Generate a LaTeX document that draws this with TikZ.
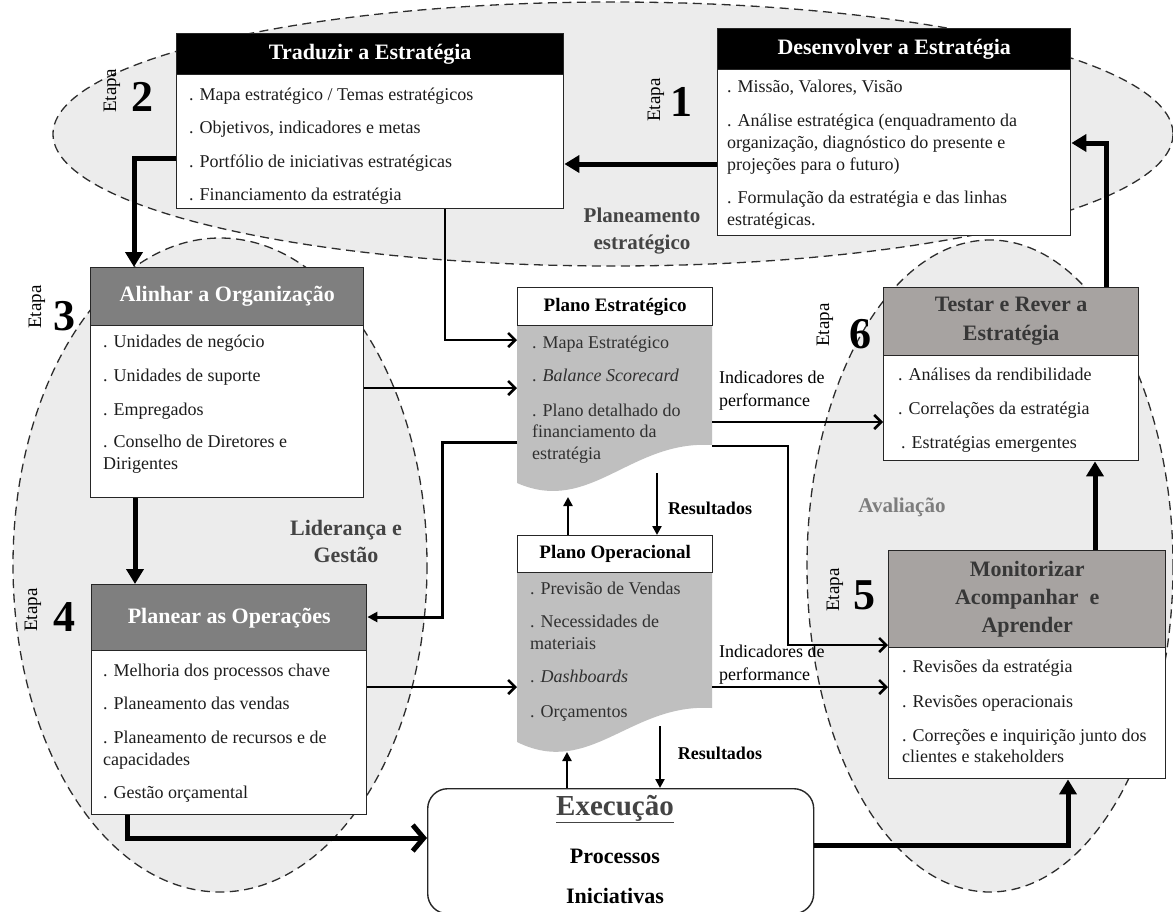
\documentclass[tikz,border=0pt]{standalone}
\usepackage{fontspec}
\setmainfont{Liberation Serif}
\usetikzlibrary{arrows.meta}

\definecolor{ellfill}{RGB}{236,236,236}
\definecolor{dashgray}{RGB}{45,45,45}
\definecolor{hdrdark}{RGB}{127,127,127}
\definecolor{hdrlight}{RGB}{167,163,161}
\definecolor{hdrlighttext}{RGB}{55,55,55}
\definecolor{docfill}{RGB}{191,191,191}
\definecolor{bodytext}{RGB}{28,28,28}
\definecolor{doctext}{RGB}{48,48,48}
\definecolor{labeldark}{RGB}{68,68,68}
\definecolor{labelmid}{RGB}{125,125,125}

\begin{document}
\begin{tikzpicture}[x=1pt,y=-1pt,
  zoneline/.style={draw=dashgray, line width=1.3pt, dash pattern=on 9pt off 5.5pt},
  card/.style={draw=black!85, line width=1.4pt, fill=white, inner sep=0pt, anchor=north west},
  hdr/.style={draw=black!85, line width=1.4pt, inner sep=0pt, anchor=north west, align=center,
    font=\fontsize{22}{29}\selectfont\bfseries},
  hdrblack/.style={hdr, fill=black, text=white},
  hdrdark/.style={hdr, fill=hdrdark, text=white},
  hdrlight/.style={hdr, fill=hdrlight, text=hdrlighttext},
  item/.style={anchor=west, inner sep=0pt, font=\fontsize{18}{22}\selectfont,
    text height=12.5pt, text depth=4pt, text=bodytext},
  docitem/.style={item, text=doctext},
  doctitle/.style={draw=black!85, line width=1.4pt, fill=white, inner sep=0pt, anchor=north west,
    font=\fontsize{19}{19}\selectfont\bfseries, minimum width=195pt},
  etapa/.style={rotate=90, inner sep=0pt, font=\fontsize{19}{19}\selectfont},
  stepnum/.style={inner sep=0pt, font=\fontsize{44}{44}\selectfont\bfseries},
  zonelabel/.style={inner sep=0pt, align=center, font=\fontsize{21}{27}\selectfont\bfseries},
  flowlabel/.style={anchor=west, inner sep=0pt, font=\fontsize{18}{23}\selectfont, align=left},
  reslabel/.style={inner sep=0pt, font=\fontsize{18}{18}\selectfont\bfseries},
  heavy/.style={line width=5pt, -{Triangle[length=15pt,width=17pt]}},
  heavybarb/.style={line width=5pt, -{Straight Barb[length=11pt,width=26pt]}},
  medbarb/.style={line width=2.6pt, -{Straight Barb[length=7pt,width=14pt]}},
  medtri/.style={line width=3pt, -{Triangle[length=10pt,width=10pt]}},
  thintri/.style={line width=2.6pt, -{Triangle[length=9pt,width=9pt]}},
]
\useasboundingbox (0,0) rectangle (1173,911);
\fill[white] (0,0) rectangle (1173,911);

% --- the three zones (fills first, then the dashed outlines)
\fill[ellfill] (613,134) ellipse [x radius=560, y radius=132];
\fill[ellfill] (220,565) ellipse [x radius=207, y radius=327];
\fill[ellfill] (990,566) ellipse [x radius=183, y radius=326];
\draw[zoneline] (613,134) ellipse [x radius=560, y radius=132];
\draw[zoneline] (220,565) ellipse [x radius=207, y radius=327];
\draw[zoneline] (990,566) ellipse [x radius=183, y radius=326];

\node[zonelabel, text=labeldark] (zplan) at (642,231) {Planeamento\\estratégico};
\node[zonelabel, text=labeldark, font=\fontsize{22}{27}\selectfont\bfseries] (zlead) at (346,541) {Liderança e\\Gestão};
\node[zonelabel, text=labelmid] (zeval) at (902,507) {Avaliação};

% --- Etapa 1: Desenvolver a Estratégia
\node[card, minimum width=353pt, minimum height=207pt] (b1) at (717,28) {};
\node[hdrblack, minimum width=353pt, minimum height=41pt] (b1h) at (717,28) {Desenvolver a Estratégia};
\node[item] (b1a) at (727,88) {. Missão, Valores, Visão};
\node[item] (b1b) at (727,122) {. Análise estratégica (enquadramento da};
\node[item] (b1c) at (727,144) {organização, diagnóstico do presente e};
\node[item] (b1d) at (727,166) {projeções para o futuro)};
\node[item] (b1e) at (727,199) {. Formulação da estratégia e das linhas};
\node[item] (b1f) at (727,221) {estratégicas.};
\node[etapa] (e1) at (656,100) {Etapa};
\node[stepnum] (n1) at (681,102) {1};

% --- Etapa 2: Traduzir a Estratégia
\node[card, minimum width=387pt, minimum height=175pt] (b2) at (176,33) {};
\node[hdrblack, minimum width=387pt, minimum height=41pt] (b2h) at (176,33) {Traduzir a Estratégia};
\node[item] (b2a) at (189,96) {. Mapa estratégico / Temas estratégicos};
\node[item] (b2b) at (189,129) {. Objetivos, indicadores e metas};
\node[item] (b2c) at (189,163) {. Portfólio de iniciativas estratégicas};
\node[item] (b2d) at (189,196) {. Financiamento da estratégia};
\node[etapa] (e2) at (112,91) {Etapa};
\node[stepnum] (n2) at (142,97) {2};

% --- Etapa 3: Alinhar a Organização
\node[card, minimum width=273pt, minimum height=230pt] (b3) at (90,267) {};
\node[hdrdark, minimum width=273pt, minimum height=58pt] (b3h) at (90,267) {Alinhar a Organização};
\node[item] (b3a) at (103,343) {. Unidades de negócio};
\node[item] (b3b) at (103,377) {. Unidades de suporte};
\node[item] (b3c) at (103,411) {. Empregados};
\node[item] (b3d) at (103,443) {. Conselho de Diretores e};
\node[item] (b3e) at (103,465) {Dirigentes};
\node[etapa] (e3) at (37,307) {Etapa};
\node[stepnum] (n3) at (64,316) {3};

% --- Etapa 4: Planear as Operações
\node[card, minimum width=275pt, minimum height=230pt] (b4) at (91,584) {};
\node[hdrdark, minimum width=275pt, minimum height=66pt] (b4h) at (91,584) {Planear as Operações};
\node[item] (b4a) at (103,672) {. Melhoria dos processos chave};
\node[item] (b4b) at (103,705) {. Planeamento das vendas};
\node[item] (b4c) at (103,739) {. Planeamento de recursos e de};
\node[item] (b4d) at (103,761) {capacidades};
\node[item] (b4e) at (103,794) {. Gestão orçamental};
\node[etapa] (e4) at (33,610) {Etapa};
\node[stepnum] (n4) at (64,617) {4};

% --- Etapa 6: Testar e Rever a Estratégia
\node[card, minimum width=255pt, minimum height=173pt] (b6) at (883,287) {};
\node[hdrlight, minimum width=255pt, minimum height=68pt] (b6h) at (883,287) {Testar e Rever a\\Estratégia};
\node[item] (b6a) at (898,376) {. Análises da rendibilidade};
\node[item] (b6b) at (898,410) {. Correlações da estratégia};
\node[item] (b6c) at (901,444) {. Estratégias emergentes};
\node[etapa] (e6) at (825,325) {Etapa};
\node[stepnum] (n6) at (860,334) {6};

% --- Etapa 5: Monitorizar Acompanhar e Aprender
\node[card, minimum width=277pt, minimum height=228pt] (b5) at (888,550) {};
\node[hdrlight, minimum width=277pt, minimum height=97pt, font=\fontsize{22}{28}\selectfont\bfseries] (b5h) at (888,550) {Monitorizar\\Acompanhar~ e\\Aprender};
\node[item] (b5a) at (902,668) {. Revisões da estratégia};
\node[item] (b5b) at (902,703) {. Revisões operacionais};
\node[item] (b5c) at (902,737) {. Correções e inquirição junto dos};
\node[item] (b5d) at (902,758) {clientes e stakeholders};
\node[etapa] (e5) at (835,590) {Etapa};
\node[stepnum] (n5) at (864,595) {5};

% --- Plano Estratégico (document shape)
\node[inner sep=0pt, minimum width=195pt, minimum height=158pt, anchor=north west] (pe) at (517,325) {};
\fill[docfill] (517,324) -- (712,324) -- (712,445) .. controls (630,440) and (590,515) .. (517,483) -- cycle;
\node[doctitle, minimum height=38pt] (pet) at (517,287) {Plano Estratégico};
\node[docitem] (pea) at (532,344) {. Mapa Estratégico};
\node[docitem] (peb) at (532,377) {. \textit{Balance Scorecard}};
\node[docitem] (pec) at (532,412) {. Plano detalhado do};
\node[docitem] (ped) at (532,433) {financiamento da};
\node[docitem] (pee) at (532,455) {estratégia};

% --- Plano Operacional (document shape)
\node[inner sep=0pt, minimum width=195pt, minimum height=170pt, anchor=north west] (po) at (517,572) {};
\fill[docfill] (517,571) -- (712,571) -- (712,708) .. controls (630,703) and (590,778) .. (517,742) -- cycle;
\node[doctitle, minimum height=37pt] (pot) at (517,535) {Plano Operacional};
\node[docitem] (poa) at (530,590) {. Previsão de Vendas};
\node[docitem] (pob) at (530,623) {. Necessidades de};
\node[docitem] (poc) at (530,645) {materiais};
\node[docitem] (pod) at (530,678) {. \textit{Dashboards}};
\node[docitem] (poe) at (530,713) {. Orçamentos};

% --- Execução
\node[draw=black!85, line width=1.4pt, fill=white, rounded corners=20pt, inner sep=0pt,
  minimum width=386pt, minimum height=125pt, anchor=north west] (ex) at (427,788) {};
\node[inner sep=0pt, text=labeldark, font=\fontsize{29}{29}\selectfont\bfseries] (ext) at (615,809) {\underline{Execução}};
\node[inner sep=0pt, font=\fontsize{22}{22}\selectfont\bfseries] (exa) at (615,856) {Processos};
\node[inner sep=0pt, font=\fontsize{22}{22}\selectfont\bfseries] (exb) at (615,896) {Iniciativas};

% --- free ends on the wavy document edges
\coordinate (peup) at (568,497);
\coordinate (pedown) at (657,473);
\coordinate (poup) at (567,752);
\coordinate (podown) at (660,726);

% --- main cycle
\draw[heavy] (b1.west |- 0,164) -- (b2.east |- 0,164);
\draw[heavy] (b2.west |- 0,158) -| (b3.north -| 134,0);
\draw[heavy] (b3.south -| 135,0) -- (b4.north -| 135,0);
\draw[heavybarb] (b4.south -| 127,0) |- (ex.west |- 0,838);
\draw[heavy] (ex.east |- 0,845) -| (b5.south -| 1068,0);
\draw[heavy] (b5.north -| 1095,0) -- (b6.south -| 1095,0);
\draw[heavy] (b6.north -| 1106,0) |- (b1.east |- 0,143);

% --- plans
\draw[medbarb] (b2.south -| 445,0) |- (pe.west |- 0,340);
\draw[medbarb] (b3.east |- 0,388) -- (pe.west |- 0,388);
\draw[medtri] (pe.west |- 0,442) -- (442,442) |- (b4.east |- 0,617);
\draw[medbarb] (b4.east |- 0,687) -- (po.west |- 0,687);
\draw[medbarb] (pe.east |- 0,422) -- (b6.west |- 0,422);
\draw[medbarb] (pe.east |- 0,446) -- (788,446) |- (b5.west |- 0,645);
\draw[medbarb] (po.east |- 0,687) -- (b5.west |- 0,687);

\draw[thintri] (pot.north -| peup) -- (peup);
\draw[thintri] (pedown) -- (pot.north -| pedown);
\draw[thintri] (ex.north -| poup) -- (poup);
\draw[thintri] (podown) -- (ex.north -| podown);

\node[flowlabel] (ind1) at (719,391) {Indicadores de\\performance};
\node[flowlabel] (ind2) at (719,665) {Indicadores de\\performance};
\node[reslabel] (res1) at (710,508) {Resultados};
\node[reslabel] (res2) at (720,753) {Resultados};
\end{tikzpicture}
\end{document}
